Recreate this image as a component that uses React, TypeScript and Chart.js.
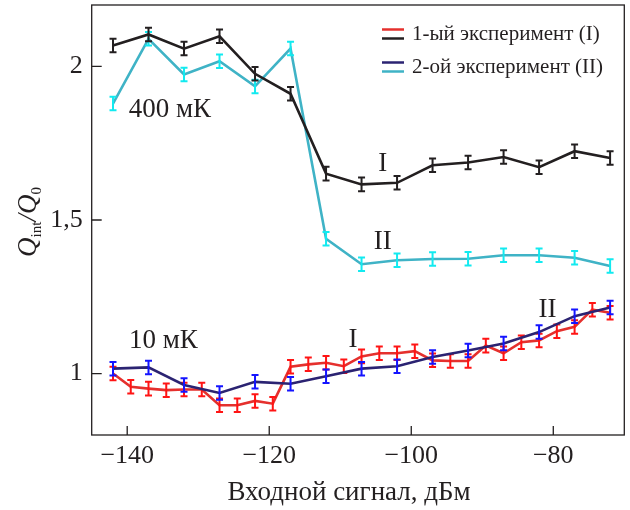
import { useEffect, useRef } from "react";
import { Chart, registerables } from "chart.js";

Chart.register(...registerables);

// ---- data ----
const X_STEP5 = [-142, -137, -132, -127, -122, -117, -112, -107, -102, -97, -92, -87, -82, -77, -72];
const X_STEP25 = [
  -142, -139.5, -137, -134.5, -132, -129.5, -127, -124.5, -122, -119.5, -117, -114.5, -112, -109.5, -107,
  -104.5, -102, -99.5, -97, -94.5, -92, -89.5, -87, -84.5, -82, -79.5, -77, -74.5, -72,
];

// 400 mK, experiment I (black)
const Q400_EXP1 = [2.068, 2.104, 2.058, 2.098, 1.976, 1.911, 1.651, 1.616, 1.621, 1.678, 1.687, 1.705, 1.672, 1.724, 1.702];
const Q400_EXP1_ERR = [0.022, 0.022, 0.022, 0.022, 0.022, 0.022, 0.022, 0.022, 0.022, 0.022, 0.022, 0.022, 0.022, 0.022, 0.022];
// 400 mK, experiment II (cyan)
const Q400_EXP2 = [1.879, 2.09, 1.974, 2.017, 1.935, 2.058, 1.439, 1.356, 1.369, 1.373, 1.374, 1.385, 1.385, 1.377, 1.35];
const Q400_EXP2_ERR = [0.022, 0.022, 0.022, 0.022, 0.022, 0.022, 0.022, 0.022, 0.022, 0.022, 0.022, 0.022, 0.022, 0.022, 0.022];
// 10 mK, experiment I (red)
const Q10_EXP1 = [
  1.0, 0.957, 0.951, 0.946, 0.948, 0.948, 0.897, 0.897, 0.911, 0.902, 1.022, 1.03, 1.035, 1.024, 1.056,
  1.066, 1.066, 1.073, 1.043, 1.041, 1.041, 1.091, 1.066, 1.102, 1.108, 1.138, 1.152, 1.208, 1.198,
];
const Q10_EXP1_ERR = [
  0.022, 0.022, 0.022, 0.022, 0.022, 0.022, 0.022, 0.022, 0.022, 0.022, 0.022, 0.022, 0.022, 0.022, 0.022,
  0.022, 0.022, 0.022, 0.022, 0.022, 0.022, 0.022, 0.022, 0.022, 0.022, 0.022, 0.022, 0.022, 0.022,
];
// 10 mK, experiment II (navy)
const Q10_EXP2 = [1.016, 1.02, 0.963, 0.937, 0.973, 0.967, 0.991, 1.016, 1.024, 1.054, 1.075, 1.098, 1.135, 1.187, 1.215];
const Q10_EXP2_ERR = [0.022, 0.022, 0.022, 0.022, 0.022, 0.022, 0.022, 0.022, 0.022, 0.022, 0.022, 0.022, 0.022, 0.022, 0.022];

const X_TICKS = [-140, -120, -100, -80];
const X_TICK_LABELS = ["\u2212140", "\u2212120", "\u2212100", "\u221280"];
const Y_TICKS = [1, 1.5, 2];
const Y_TICK_LABELS = ["1", "1,5", "2"];

const X_TITLE = "Входной сигнал, дБм";
const LEGEND_LABELS = ["1-ый эксперимент (I)", "2-ой эксперимент (II)"];
const ANNOTATIONS = [
  { text: "400 мК", x: -134, y: 1.86 },
  { text: "10 мК", x: -134.9, y: 1.105 },
  { text: "I", x: -104, y: 1.683 },
  { text: "II", x: -104, y: 1.428 },
  { text: "I", x: -108.2, y: 1.108 },
  { text: "II", x: -80.8, y: 1.208 },
];

const SERIF = "'Liberation Serif', 'Times New Roman', serif";
const INK = "#231f20";

const BLACK = "#231f20";
const CYAN_LINE = "#3fb3c6";
const CYAN_BAR = "#12eaf0";
const RED_LINE = "#e5302d";
const RED_BAR = "#ff1414";
const NAVY_LINE = "#2b2372";
const BLUE_BAR = "#1414ff";

const toPoints = (xs: number[], ys: number[]) => xs.map((x, i) => ({ x, y: ys[i] }));

const extrasPlugin = {
  id: "extras",
  afterDatasetDraw(chart: any, args: any) {
    const ds = chart.data.datasets[args.index];
    const errs: number[] = ds.errors;
    if (!errs) return;
    const xs = chart.scales.x;
    const ys = chart.scales.y;
    const ctx = chart.ctx;
    ctx.save();
    ctx.strokeStyle = ds.barColor;
    ctx.lineWidth = 2;
    ds.data.forEach((p: any, i: number) => {
      const px = xs.getPixelForValue(p.x);
      const t = ys.getPixelForValue(p.y + errs[i]);
      const b = ys.getPixelForValue(p.y - errs[i]);
      ctx.beginPath();
      ctx.moveTo(px, t);
      ctx.lineTo(px, b);
      ctx.moveTo(px - 3.5, t);
      ctx.lineTo(px + 3.5, t);
      ctx.moveTo(px - 3.5, b);
      ctx.lineTo(px + 3.5, b);
      ctx.stroke();
    });
    ctx.restore();
  },
  afterDraw(chart: any) {
    const ctx = chart.ctx;
    const { left, right, top, bottom } = chart.chartArea;
    const xs = chart.scales.x;
    const ys = chart.scales.y;
    ctx.save();
    // frame
    ctx.strokeStyle = INK;
    ctx.lineWidth = 1.3;
    ctx.strokeRect(left, top, right - left, bottom - top);
    // inward ticks
    ctx.beginPath();
    X_TICKS.forEach((v) => {
      const px = xs.getPixelForValue(v);
      ctx.moveTo(px, bottom);
      ctx.lineTo(px, bottom - 9);
    });
    Y_TICKS.forEach((v) => {
      const py = ys.getPixelForValue(v);
      ctx.moveTo(left, py);
      ctx.lineTo(left + 10, py);
    });
    ctx.stroke();

    // x title
    ctx.fillStyle = INK;
    ctx.font = `27px ${SERIF}`;
    ctx.textAlign = "center";
    ctx.textBaseline = "middle";
    ctx.fillText(X_TITLE, 349, 493);

    // legend
    const legendRows = [
      { colors: [RED_LINE, BLACK], y: 34 },
      { colors: [NAVY_LINE, CYAN_LINE], y: 67 },
    ];
    legendRows.forEach((row, i) => {
      ctx.lineWidth = 2.5;
      ctx.strokeStyle = row.colors[0];
      ctx.beginPath();
      ctx.moveTo(382, row.y - 4.5);
      ctx.lineTo(404, row.y - 4.5);
      ctx.stroke();
      ctx.strokeStyle = row.colors[1];
      ctx.beginPath();
      ctx.moveTo(382, row.y + 4.5);
      ctx.lineTo(404, row.y + 4.5);
      ctx.stroke();
      ctx.fillStyle = INK;
      ctx.font = `21px ${SERIF}`;
      ctx.textAlign = "left";
      ctx.textBaseline = "middle";
      ctx.fillText(LEGEND_LABELS[i], 412, row.y);
    });

    // annotations
    ctx.font = `27px ${SERIF}`;
    ctx.textAlign = "center";
    ctx.textBaseline = "middle";
    ctx.fillStyle = INK;
    ANNOTATIONS.forEach((a) => {
      ctx.fillText(a.text, xs.getPixelForValue(a.x), ys.getPixelForValue(a.y));
    });

    // y title: Q_int / Q_0 rotated
    ctx.translate(36, 222);
    ctx.rotate(-Math.PI / 2);
    const parts = [
      { t: "Q", f: `italic 27px ${SERIF}`, dy: 0 },
      { t: "int", f: `15px ${SERIF}`, dy: 5 },
      { t: "/", f: `italic 27px ${SERIF}`, dy: 0 },
      { t: "Q", f: `italic 27px ${SERIF}`, dy: 0 },
      { t: "0", f: `15px ${SERIF}`, dy: 5 },
    ];
    let total = 0;
    parts.forEach((p) => {
      ctx.font = p.f;
      total += ctx.measureText(p.t).width;
    });
    let cx = -total / 2;
    ctx.textAlign = "left";
    ctx.textBaseline = "alphabetic";
    parts.forEach((p) => {
      ctx.font = p.f;
      ctx.fillText(p.t, cx, p.dy);
      cx += ctx.measureText(p.t).width;
    });
    ctx.restore();
  },
};

export default function App() {
  const ref = useRef<HTMLCanvasElement | null>(null);
  useEffect(() => {
    if (!ref.current) return;
    const chart = new Chart(ref.current, {
      type: "line",
      data: {
        datasets: [
          {
            label: "400 мК I",
            data: toPoints(X_STEP5, Q400_EXP1),
            errors: Q400_EXP1_ERR,
            barColor: BLACK,
            borderColor: BLACK,
            borderWidth: 2.6,
            pointRadius: 0,
          } as any,
          {
            label: "400 мК II",
            data: toPoints(X_STEP5, Q400_EXP2),
            errors: Q400_EXP2_ERR,
            barColor: CYAN_BAR,
            borderColor: CYAN_LINE,
            borderWidth: 2.6,
            pointRadius: 0,
          } as any,
          {
            label: "10 мК II",
            data: toPoints(X_STEP5, Q10_EXP2),
            errors: Q10_EXP2_ERR,
            barColor: BLUE_BAR,
            borderColor: NAVY_LINE,
            borderWidth: 2.6,
            pointRadius: 0,
          } as any,
          {
            label: "10 мК I",
            data: toPoints(X_STEP25, Q10_EXP1),
            errors: Q10_EXP1_ERR,
            barColor: RED_BAR,
            borderColor: RED_LINE,
            borderWidth: 2.6,
            pointRadius: 0,
          } as any,
        ],
      },
      options: {
        animation: false,
        responsive: false,
        layout: { padding: { top: 5, right: 5.7, left: 0, bottom: 0 } },
        plugins: { legend: { display: false }, tooltip: { enabled: false } },
        scales: {
          x: {
            type: "linear",
            min: -145,
            max: -70,
            grid: { display: false, drawTicks: false },
            border: { display: false },
            afterBuildTicks: (s: any) => {
              s.ticks = X_TICKS.map((v) => ({ value: v }));
            },
            afterFit: (s: any) => {
              s.height = 75;
              s.paddingLeft = 0;
              s.paddingRight = 0;
            },
            ticks: {
              padding: 6,
              color: INK,
              font: { family: SERIF, size: 26 },
              maxRotation: 0,
              autoSkip: false,
              callback: (v: any) => X_TICK_LABELS[X_TICKS.indexOf(Number(v))] ?? "",
            },
          },
          y: {
            type: "linear",
            min: 0.8,
            max: 2.2,
            grid: { display: false, drawTicks: false },
            border: { display: false },
            afterBuildTicks: (s: any) => {
              s.ticks = Y_TICKS.map((v) => ({ value: v }));
            },
            afterFit: (s: any) => {
              s.width = 91.7;
              s.paddingTop = 0;
              s.paddingBottom = 0;
            },
            ticks: {
              padding: 9,
              color: INK,
              font: { family: SERIF, size: 26 },
              autoSkip: false,
              callback: (v: any) => Y_TICK_LABELS[Y_TICKS.indexOf(Number(v))] ?? "",
            },
          },
        },
      },
      plugins: [extrasPlugin],
    });
    return () => chart.destroy();
  }, []);
  return (
    <div style={{ position: "absolute", left: 0, top: 0, width: 630, height: 510, background: "#fff" }}>
      <canvas ref={ref} width={630} height={510} />
    </div>
  );
}
